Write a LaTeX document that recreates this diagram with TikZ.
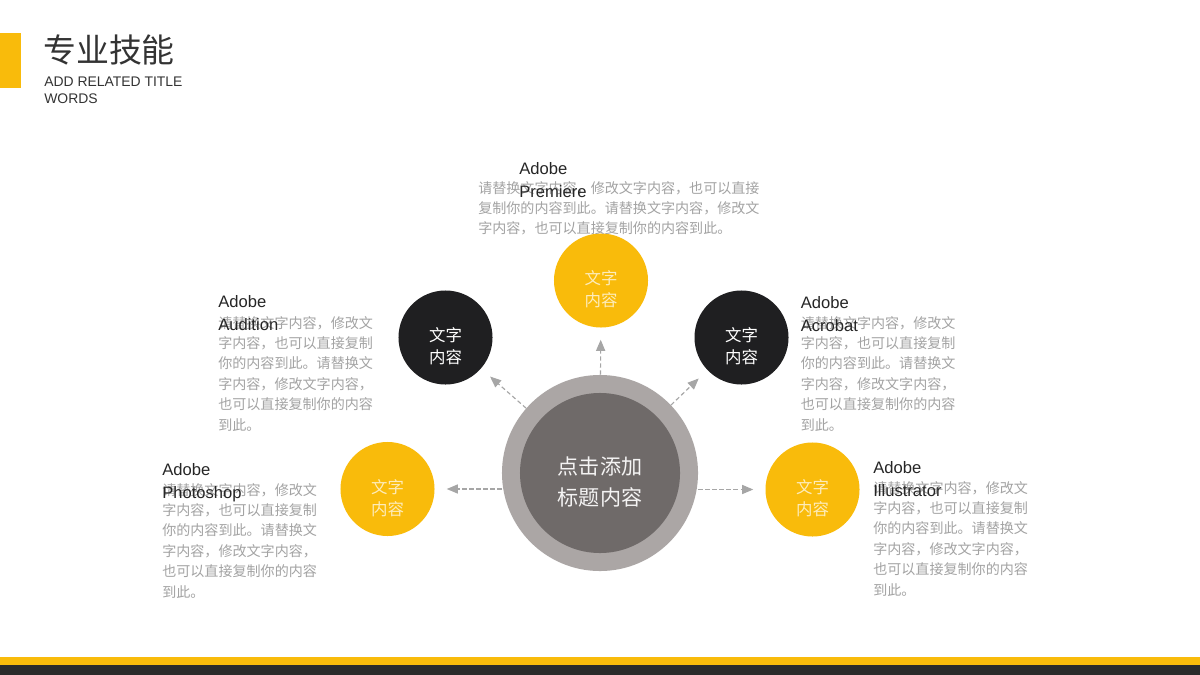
\documentclass[tikz,border=0pt]{standalone}
\usepackage{fontspec}
\setmainfont{Liberation Sans}
\newfontfamily\cjk{Noto Sans CJK SC}
\usetikzlibrary{arrows}
\definecolor{skillyellow}{HTML}{F9BB0B}
\definecolor{skillblack}{HTML}{1F1F21}
\definecolor{ringgray}{HTML}{ABA6A5}
\definecolor{coregray}{HTML}{6F6A69}
\definecolor{bodygray}{HTML}{A3A3A3}
\definecolor{titlegray}{HTML}{333333}
\definecolor{footdark}{HTML}{2A2A2A}

\begin{document}
\begin{tikzpicture}[x=0.025cm,y=-0.025cm,
		sat/.style={circle,minimum size=2.35cm,inner sep=0pt},
		ysat/.style={sat,fill=skillyellow},
		bsat/.style={sat,fill=skillblack},
		sattext/.style={align=center,inner sep=0pt,font=\cjk\fontsize{11.7}{15.6}\selectfont},
		head/.style={anchor=north west,inner sep=0pt,align=left,text=black!85,font=\fontsize{11.8}{16.3}\selectfont},
		body/.style={anchor=north west,inner sep=0pt,align=left,text=bodygray,font=\cjk\fontsize{10}{14.5}\selectfont},
		link/.style={draw=black!35,line width=0.8pt,dash pattern=on 3pt off 2pt,-triangle 45,shorten >=0.3cm}]
	\useasboundingbox (0,0) rectangle (1200,675);
	\fill[white] (0,0) rectangle (1200,675);
	% title
	\fill[skillyellow] (0,33) rectangle (21,88);
	\node[anchor=north west,inner sep=0pt,text=titlegray,font=\cjk\fontsize{23.4}{28}\selectfont] (title) at (43,35) {专业技能};
	\node[anchor=north west,inner sep=0pt,align=left,text=titlegray,font=\fontsize{9.9}{12}\selectfont] (subtitle) at (44,77) {ADD RELATED TITLE\\WORDS};
	% footer
	\fill[skillyellow] (0,657) rectangle (1200,665);
	\fill[footdark] (0,665) rectangle (1200,675);
	% hub
	\node[circle,fill=ringgray,minimum size=4.9cm,inner sep=0pt] (hub) at (600,473) {};
	\node[circle,fill=coregray,minimum size=4cm,inner sep=0pt] (core) at (hub) {};
	\node[align=center,inner sep=0pt,text=white!92!coregray,font=\cjk\fontsize{15}{22}\selectfont] (hubtext) at (600,482) {点击添加\\标题内容};
	% satellites
	\node[ysat] (pr) at (601,280.5) {};
	\node[bsat] (au) at (445.5,337.5) {};
	\node[bsat] (ac) at (741.5,337.5) {};
	\node[ysat] (ps) at (387.5,489) {};
	\node[ysat] (il) at (812.5,489.5) {};
	\node[sattext,text=white!72!skillyellow] (prtext) at ([yshift=-6.5pt]pr) {文字\\内容};
	\node[sattext,text=white] (autext) at ([yshift=-6.5pt]au) {文字\\内容};
	\node[sattext,text=white] (actext) at ([yshift=-6.5pt]ac) {文字\\内容};
	\node[sattext,text=white!72!skillyellow] (pstext) at ([yshift=-6.5pt]ps) {文字\\内容};
	\node[sattext,text=white!72!skillyellow] (iltext) at ([yshift=-6.5pt]il) {文字\\内容};
	% links
	\draw[link] (hub) -- (pr);
	\draw[link] (hub) -- (au);
	\draw[link] (hub) -- (ac);
	\draw[link] (hub.west |- ps) -- (ps);
	\draw[link] (hub.east |- il) -- (il);
	% texts
	\node[body] (prbody) at (478,181) {请替换文字内容，修改文字内容，也可以直接\\复制你的内容到此。请替换文字内容，修改文\\字内容，也可以直接复制你的内容到此。};
	\node[head] (prhead) at (519,162) {Adobe\\Premiere};
	\node[body] (aubody) at (218,316) {请替换文字内容，修改文\\字内容，也可以直接复制\\你的内容到此。请替换文\\字内容，修改文字内容，\\也可以直接复制你的内容\\到此。};
	\node[head] (auhead) at (218,295) {Adobe\\Audition};
	\node[body] (psbody) at (162,483) {请替换文字内容，修改文\\字内容，也可以直接复制\\你的内容到此。请替换文\\字内容，修改文字内容，\\也可以直接复制你的内容\\到此。};
	\node[head] (pshead) at (162,463) {Adobe\\Photoshop};
	\node[body] (acbody) at (800.5,316) {请替换文字内容，修改文\\字内容，也可以直接复制\\你的内容到此。请替换文\\字内容，修改文字内容，\\也可以直接复制你的内容\\到此。};
	\node[head] (achead) at (800.5,296) {Adobe\\Acrobat};
	\node[body] (ilbody) at (873,481) {请替换文字内容，修改文\\字内容，也可以直接复制\\你的内容到此。请替换文\\字内容，修改文字内容，\\也可以直接复制你的内容\\到此。};
	\node[head] (ilhead) at (873,461) {Adobe\\Illustrator};
\end{tikzpicture}
\end{document}
